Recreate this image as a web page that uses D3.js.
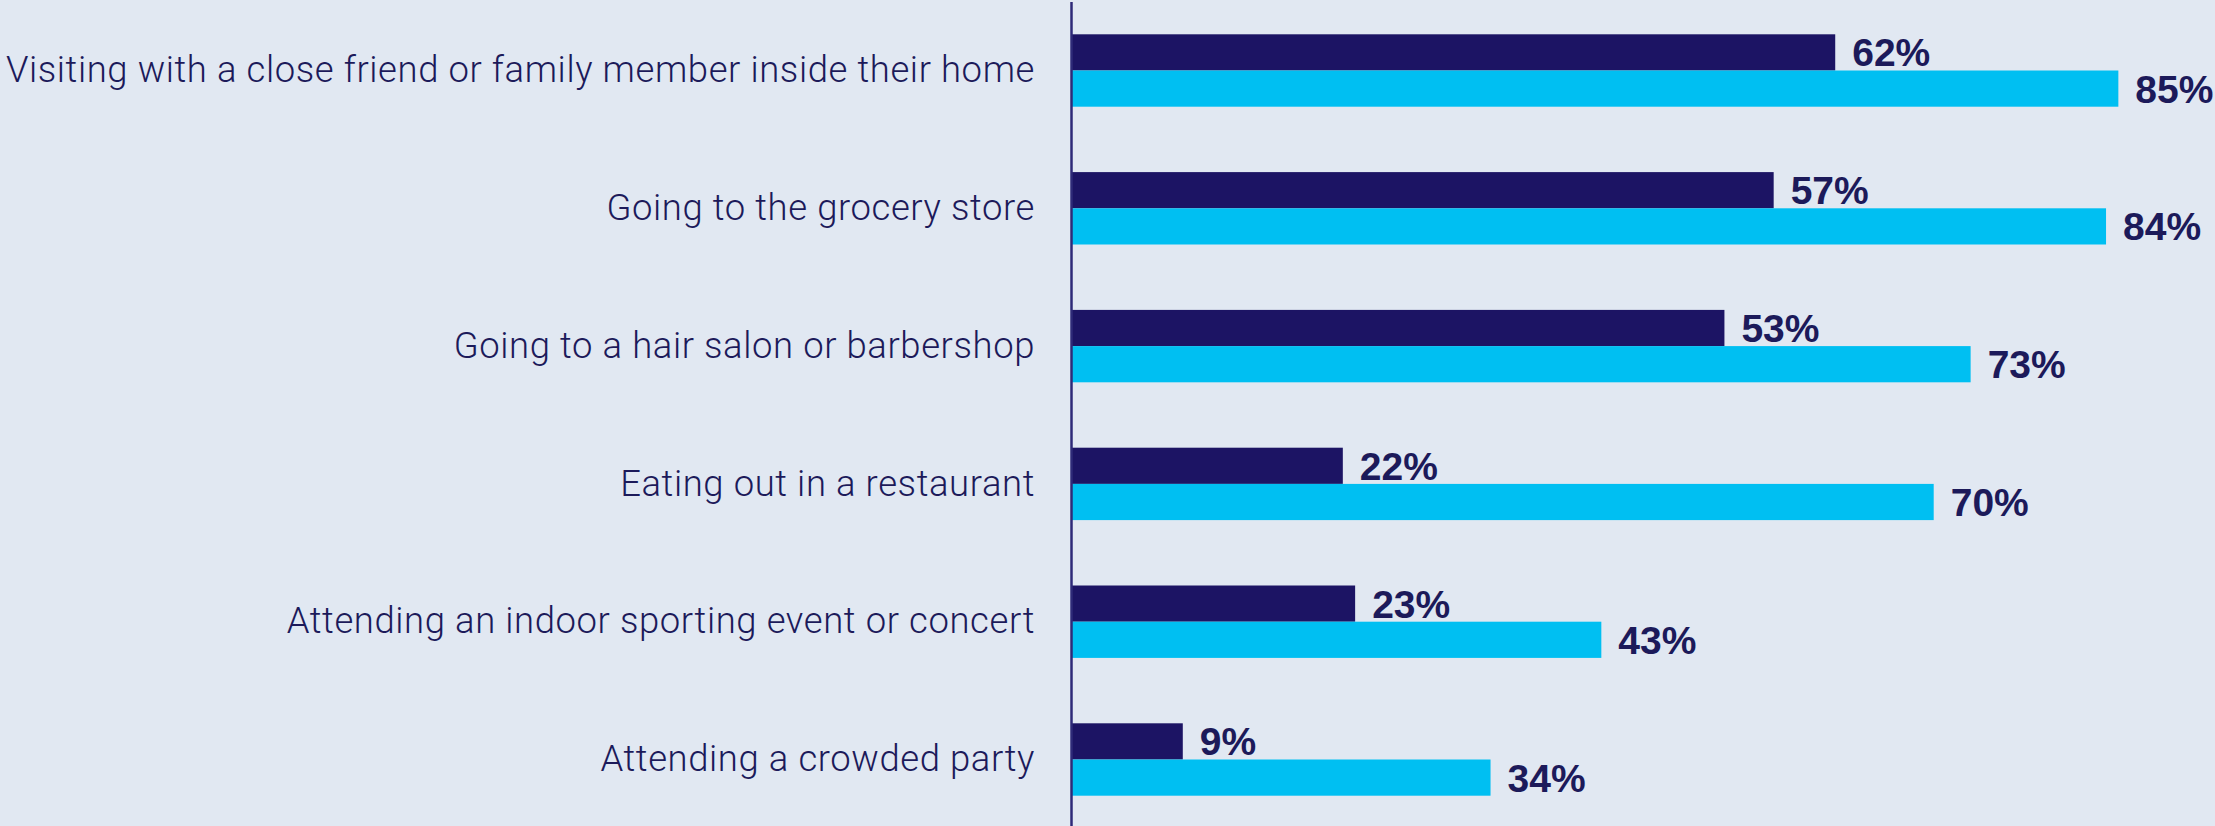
<!DOCTYPE html>
<html>
<head>
<meta charset="utf-8">
<script src="https://cdn.jsdelivr.net/npm/d3@7"></script>
<style>
  html, body { margin: 0; padding: 0; background: #e1e8f2; }
  svg { display: block; }
</style>
</head>
<body>
<div id="chart"></div>
<script>
const width = 2215, height = 826;

const activities = [
    "Visiting with a close friend or family member inside their home",
    "Going to the grocery store",
    "Going to a hair salon or barbershop",
    "Eating out in a restaurant",
    "Attending an indoor sporting event or concert",
    "Attending a crowded party"
];
const seriesKeys = ["dark", "light"];
const darkValues = [62, 57, 53, 22, 23, 9];
const lightValues = [85, 84, 73, 70, 43, 34];

const colors = { dark: "#1c1464", light: "#00bff2" };
const textColor = "#1c1a5a";

let rows = activities.map((a, i) => ({ name: a, dark: darkValues[i], light: lightValues[i] }));

let svg = d3.select("#chart")
    .append("svg")
    .attr("width", width)
    .attr("height", height);

svg.append("rect")
    .attr("width", width)
    .attr("height", height)
    .attr("fill", "#e1e8f2");

let x = d3.scaleLinear()
    .domain([0, 100])
    .range([1072, 2303]);

let y = d3.scaleBand()
    .domain(activities)
    .range([1.6, 828.4])
    .paddingInner(0.4746)
    .paddingOuter(0.2373);

let ySub = d3.scaleBand()
    .domain(seriesKeys)
    .range([0, y.bandwidth()]);

// bars
let group = svg.selectAll("g.row")
    .data(rows)
    .enter()
    .append("g")
    .attr("class", "row")
    .attr("transform", d => "translate(0," + y(d.name) + ")");

group.selectAll("rect")
    .data(d => seriesKeys.map(k => ({ key: k, value: d[k] })))
    .enter()
    .append("rect")
    .attr("x", x(0))
    .attr("y", d => ySub(d.key))
    .attr("width", d => x(d.value) - x(0))
    .attr("height", ySub.bandwidth())
    .attr("fill", d => colors[d.key]);

group.selectAll("text.val")
    .data(d => seriesKeys.map(k => ({ key: k, value: d[k] })))
    .enter()
    .append("text")
    .attr("class", "val")
    .attr("x", d => x(d.value) + 17)
    .attr("y", d => ySub(d.key) + ySub.bandwidth() / 2)
    .attr("dy", "0.36em")
    .attr("font-family", "'Liberation Sans', Arial, sans-serif")
    .attr("font-weight", "bold")
    .attr("font-size", 39)
    .attr("fill", textColor)
    .text(d => d.value + "%");

// category axis
let axis = svg.append("g")
    .attr("transform", "translate(1071,0)")
    .call(d3.axisLeft(y).tickSize(0).tickPadding(36));

axis.select(".domain")
    .attr("stroke", "#2e2a78")
    .attr("stroke-width", 2.5);

axis.selectAll("text")
    .attr("font-family", "Roboto, 'Liberation Sans', sans-serif")
    .attr("font-weight", 300)
    .attr("font-size", 38)
    .attr("letter-spacing", 0.6)
    .attr("fill", textColor);

// keep the longest label inside the left edge (reference: ~1028px wide)
let longest = d3.max(axis.selectAll("text").nodes(), n => n.getComputedTextLength());
if (longest > 1028) {
    axis.selectAll("text").attr("font-size", 38 * 1028 / longest);
}
</script>
</body>
</html>
